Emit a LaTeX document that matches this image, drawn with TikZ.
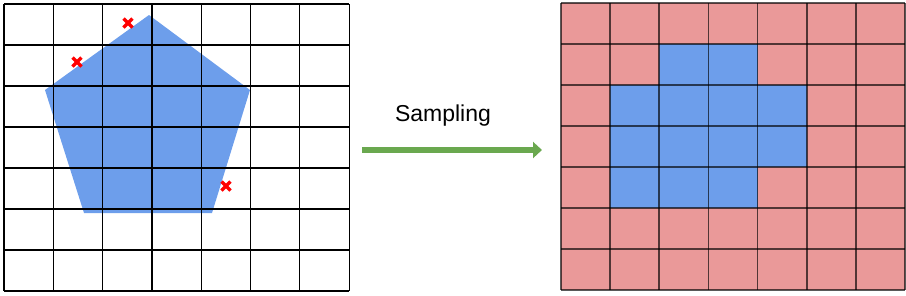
\documentclass[tikz,border=0pt]{standalone}
\usepackage{fontspec}
\setmainfont{Liberation Sans}
\usetikzlibrary{arrows.meta}
\definecolor{cellblue}{HTML}{6D9EEB}
\definecolor{cellred}{HTML}{EA9999}
\definecolor{arrowgreen}{HTML}{6AA84F}
\definecolor{crossred}{HTML}{FF0000}
\tikzset{
  gridline/.style={black, line width=1.2pt},
  rgridline/.style={black, opacity=0.65, line width=1.6pt},
  crossmark/.style={crossred, line width=3.4pt},
  bigarrow/.style={arrowgreen, line width=6.5pt, -{Triangle[length=9pt,width=16pt]}},
  lbl/.style={font=\fontsize{23}{26}\selectfont, inner sep=0pt}
}
\begin{document}
\begin{tikzpicture}[x=1pt,y=-1pt]
\useasboundingbox (0,0) rectangle (906,295);
% left: pentagon
\fill[cellblue] (149,15) -- (250,90) -- (212,213) -- (84,213) -- (45,90) -- cycle;
% left grid
\foreach \i in {0,...,7} {
  \draw[gridline] ({4+49.3*\i},4) -- ({4+49.3*\i},291);
  \draw[gridline] (4,{4+41*\i}) -- (349,{4+41*\i});
}
% crosses
\foreach \cx/\cy in {128/23, 77/62, 226/186} {
  \draw[crossmark] (\cx-4.5,\cy-4.5) -- (\cx+4.5,\cy+4.5);
  \draw[crossmark] (\cx-4.5,\cy+4.5) -- (\cx+4.5,\cy-4.5);
}
% right grid cells
\foreach \r in {0,...,6} {
  \foreach \c in {0,...,6} {
    \fill[cellred] ({561+49.14*\c},{3+41*\r}) rectangle ({561+49.14*(\c+1)},{3+41*(\r+1)});
  }
}
\foreach \r/\c in {1/2,1/3,2/1,2/2,2/3,2/4,3/1,3/2,3/3,3/4,4/1,4/2,4/3} {
  \fill[cellblue] ({561+49.14*\c},{3+41*\r}) rectangle ({561+49.14*(\c+1)},{3+41*(\r+1)});
}
\foreach \i in {0,...,7} {
  \draw[rgridline] ({561+49.14*\i},3) -- ({561+49.14*\i},290);
  \draw[rgridline] (561,{3+41*\i}) -- (905,{3+41*\i});
}
% arrow and label
\node[lbl] (label) at (443,116) {Sampling};
\coordinate (astart) at (362,150);
\coordinate (aend) at (542,150);
\draw[bigarrow] (astart) -- (aend);
\end{tikzpicture}
\end{document}
